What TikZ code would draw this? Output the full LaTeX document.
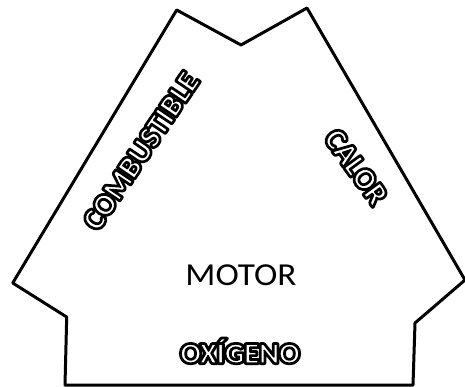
\documentclass[tikz,border=0pt]{standalone}
\usepackage{fontspec}
\setmainfont{Carlito}
\newcommand\outlined[1]{%
  {\color{black}\special{pdf:literal direct 0 G 2 Tr 4 w 1 j}\rlap{#1}}%
  {\color{white}\special{pdf:literal direct 0 G 2 Tr 1.4 w 1 j}#1}%
  \special{pdf:literal direct 0 Tr}}
\begin{document}
\begin{tikzpicture}[x=1pt,y=-1pt,
  outl/.style={font=\bfseries\fontsize{30.5}{30.5}\selectfont, inner sep=0pt},
  border/.style={line width=3pt, line join=round}]
\useasboundingbox (0,0) rectangle (465,387);
\fill[white] (0,0) rectangle (465,387);
\draw[border] (176.7,10) -- (241,45) -- (307,8) -- (465,280) -- (415,323)
  -- (413,385) -- (65,385) -- (66.7,317) -- (12.7,283) -- cycle;
\node[outl, rotate=56] (comb) at (141,151) {\outlined{COMBUSTIBLE}};
\node[outl, rotate=-54] (calor) at (356,167) {\outlined{CALOR}};
\node[outl, font=\bfseries\fontsize{29}{29}\selectfont, xscale=1.05, anchor=base] (oxi) at (240,363) {\outlined{OXÍGENO}};
\node[font=\fontsize{32}{32}\selectfont, xscale=1.1, inner sep=0pt, anchor=base] (motor) at (241,285) {MOTOR};
\end{tikzpicture}
\end{document}
